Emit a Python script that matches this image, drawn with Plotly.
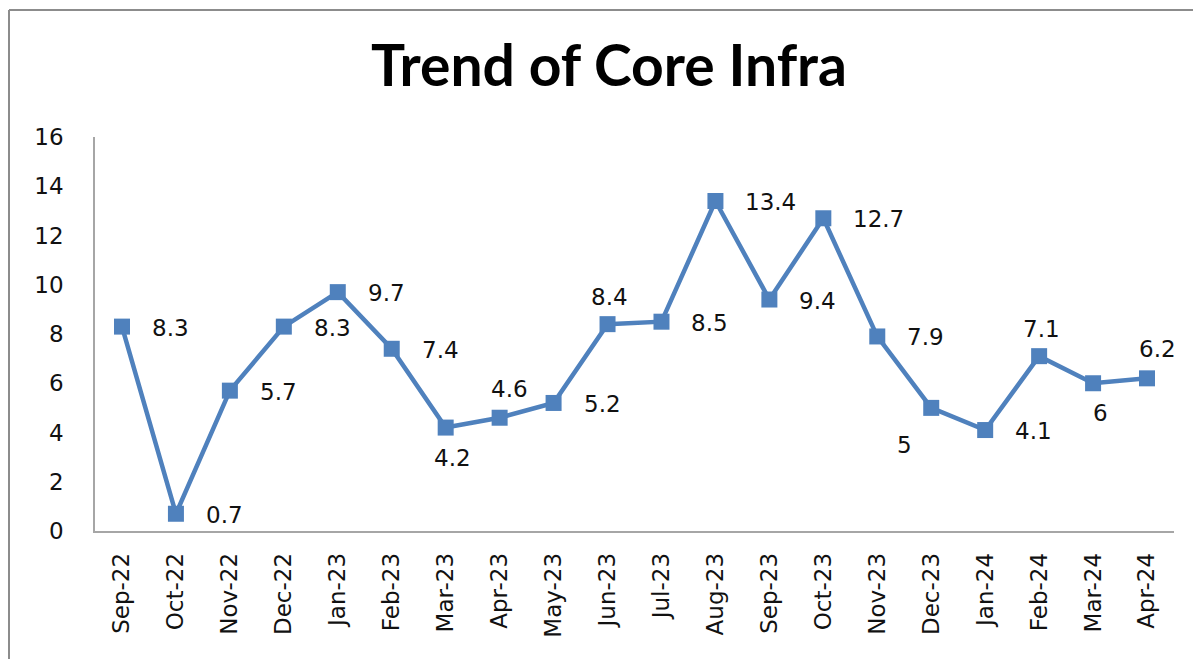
import plotly.graph_objects as go

months = ["Sep-22", "Oct-22", "Nov-22", "Dec-22", "Jan-23", "Feb-23", "Mar-23",
          "Apr-23", "May-23", "Jun-23", "Jul-23", "Aug-23", "Sep-23", "Oct-23",
          "Nov-23", "Dec-23", "Jan-24", "Feb-24", "Mar-24", "Apr-24"]
core_growth = [8.3, 0.7, 5.7, 8.3, 9.7, 7.4, 4.2, 4.6, 5.2, 8.4, 8.5, 13.4,
               9.4, 12.7, 7.9, 5, 4.1, 7.1, 6, 6.2]
value_labels = ["8.3", "0.7", "5.7", "8.3", "9.7", "7.4", "4.2", "4.6", "5.2", "8.4",
                "8.5", "13.4", "9.4", "12.7", "7.9", "5", "4.1", "7.1", "6", "6.2"]
y_ticks = [0, 2, 4, 6, 8, 10, 12, 14, 16]

# label placement style for each point
placements = ["right", "right", "right", "right", "right", "right", "below_r",
              "above_r", "right", "above", "right", "right", "right", "right",
              "right", "below_l", "right", "above", "below_r", "above_r"]
placement_styles = {
    "right":   dict(xanchor="left", xshift=28, yshift=-1),
    "above":   dict(xanchor="center", xshift=2, yshift=27),
    "above_r": dict(xanchor="center", xshift=10, yshift=29),
    "below_r": dict(xanchor="center", xshift=7, yshift=-30),
    "below_l": dict(xanchor="center", xshift=-27, yshift=-37),
}

BLUE = "#4F81BD"
FONT = "DejaVu Sans"
# the page body places the figure 8px from the top-left corner of the window
FIG_W, FIG_H = 1193, 651
L, T, R, B = 87, 129, 27, 128
W, H = FIG_W - L - R, FIG_H - T - B


def px_x(p):
    return (p - L) / W


def px_y(p):
    return (T + H - p) / H


fig = go.Figure()
fig.add_trace(go.Scatter(
    x=months, y=core_growth, mode="lines+markers",
    line=dict(color=BLUE, width=4.5),
    marker=dict(symbol="square", size=16, color=BLUE),
    showlegend=False, hoverinfo="x+y",
))

for m, v, t, p in zip(months, core_growth, value_labels, placements):
    st = placement_styles[p]
    fig.add_annotation(x=m, y=v, text=t, showarrow=False, yanchor="middle",
                       font=dict(family=FONT, size=23, color="#111111"), **st)

# outer chart border: only the top and left edges are visible in the reference
border = dict(color="#8C8C8C", width=2)
fig.add_shape(type="line", xref="paper", yref="paper",
              x0=px_x(1), x1=px_x(FIG_W + 20), y0=px_y(2), y1=px_y(2),
              line=border, layer="below")
fig.add_shape(type="line", xref="paper", yref="paper",
              x0=px_x(1), x1=px_x(1), y0=px_y(2), y1=px_y(FIG_H + 20),
              line=border, layer="below")

fig.update_layout(
    width=FIG_W, height=FIG_H,
    margin=dict(l=L, r=R, t=T, b=B),
    paper_bgcolor="white", plot_bgcolor="white",
    title=dict(text="<b>Trend of Core Infra</b>", x=601 / FIG_W, xanchor="center",
               xref="container", y=1 - 58 / FIG_H, yanchor="middle", yref="container",
               font=dict(family="Lato", size=57, color="#000000")),
    xaxis=dict(type="category", range=[-0.5, 19.5], tickangle=-90,
               showline=True, linecolor="#A6A6A6", linewidth=1.5,
               showgrid=False, zeroline=False, ticks="", automargin=False,
               tickfont=dict(family=FONT, size=23, color="#111111"),
               ticklabelstandoff=11),
    yaxis=dict(range=[0, 16], tickvals=y_ticks, showline=True,
               linecolor="#A6A6A6", linewidth=1.5, showgrid=False,
               zeroline=False, ticks="", automargin=False,
               tickfont=dict(family=FONT, size=23, color="#111111"),
               ticklabelstandoff=25),
)

fig.write_html("out.html")
